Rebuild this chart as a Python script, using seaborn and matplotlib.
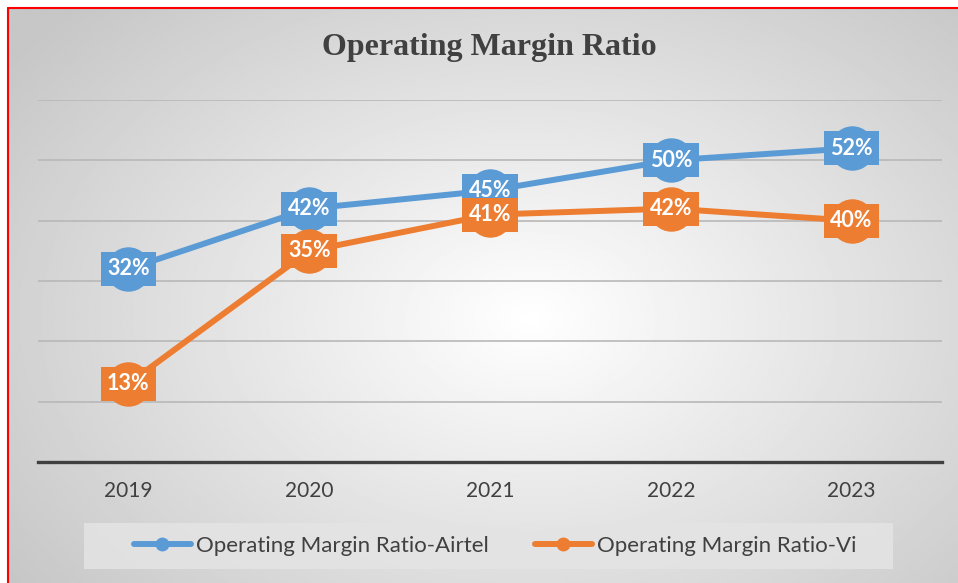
import numpy as np
import pandas as pd
import matplotlib
matplotlib.use('Agg')
import matplotlib.pyplot as plt
import seaborn as sns
from matplotlib.lines import Line2D
from matplotlib.patches import Rectangle

# data
years = ['2019', '2020', '2021', '2022', '2023']
airtel = [32, 42, 45, 50, 52]
vi = [13, 35, 41, 42, 40]
series_names = ['Operating Margin Ratio-Airtel', 'Operating Margin Ratio-Vi']
colors = ['#5B9BD5', '#ED7D31']

sns.set_theme(style='white')
plt.rcParams['font.family'] = ['Lato', 'DejaVu Sans']

W, H = 958, 583
fig = plt.figure(figsize=(W / 100, H / 100), dpi=100)

# radial grey background with red border on left/top
bg = fig.add_axes([8 / W, 0, 1 - 8 / W, 1 - 8 / H])
yy, xx = np.mgrid[0:1:300j, 0:1:500j]
r = np.sqrt(((xx - 0.55) / 0.75) ** 2 + ((yy - 0.46) / 0.85) ** 2)
shade = 1 - 0.22 * np.clip(r / 0.9, 0, 1)
bg.imshow(shade, cmap='gray', vmin=0, vmax=1, aspect='auto',
          extent=[0, 1, 0, 1], origin='lower')
bg.axis('off')
fig.add_artist(Line2D([8 / W, 8 / W], [0, 1 - 8 / H], transform=fig.transFigure,
                      color='red', lw=1.5))
fig.add_artist(Line2D([8 / W, 1], [1 - 8 / H, 1 - 8 / H], transform=fig.transFigure,
                      color='red', lw=1.5))

# main plot
ax = fig.add_axes([38 / W, 1 - 462 / H, 904 / W, 362 / H])
ax.patch.set_alpha(0)

df = pd.DataFrame({
    'year': years * 2,
    'value': airtel + vi,
    'series': [series_names[0]] * len(years) + [series_names[1]] * len(years),
})
sns.lineplot(data=df, x='year', y='value', hue='series', palette=colors,
             marker='o', markersize=32, markeredgewidth=0, linewidth=4.3,
             sort=False, legend=False, ax=ax)

# data labels
for vals, c in zip([airtel, vi], colors):
    for i, v in enumerate(vals):
        ax.text(i, v, f'{v}%', ha='center', va='center', color='white',
                fontsize=15.5, fontweight='bold', zorder=5,
                bbox=dict(boxstyle='square,pad=0.3', fc=c, ec='none'))

ax.set_xlim(-0.5, 4.5)
ax.set_ylim(0, 60)
ax.set_yticks(range(0, 61, 10))
ax.set_yticklabels([])
ax.yaxis.grid(True, color='#b8b8b8', lw=1.2)
ax.set_axisbelow(True)
for s in ['left', 'right', 'top']:
    ax.spines[s].set_visible(False)
ax.spines['bottom'].set_color('#404040')
ax.spines['bottom'].set_linewidth(2.4)
ax.spines['bottom'].set_zorder(1)
ax.tick_params(axis='x', length=0, labelsize=15, colors='#404040', pad=14)
ax.tick_params(axis='y', length=0)
ax.set_xlabel('')
ax.set_ylabel('')

fig.text(489 / W, 1 - 47 / H, 'Operating Margin Ratio', ha='center', va='center',
         fontsize=23, fontweight='bold', color='#404040',
         family=['Liberation Serif', 'DejaVu Serif'])

# legend with grey box
fig.add_artist(Rectangle((84 / W, 1 - 569 / H), 809 / W, 46 / H,
                         transform=fig.transFigure, fc='#e4e4e4', ec='none', alpha=0.85))
handles = [Line2D([0], [0], color=c, lw=4.3, marker='o', markersize=9) for c in colors]
leg = fig.legend(handles, series_names, loc='center left',
                 bbox_to_anchor=(134 / W, 1 - 546 / H), ncol=2, frameon=False,
                 fontsize=16, handlelength=2.55, handletextpad=0.22,
                 columnspacing=2.1, borderpad=0, borderaxespad=0)
for t in leg.get_texts():
    t.set_color('#404040')

fig.savefig('out.png', dpi=100)
